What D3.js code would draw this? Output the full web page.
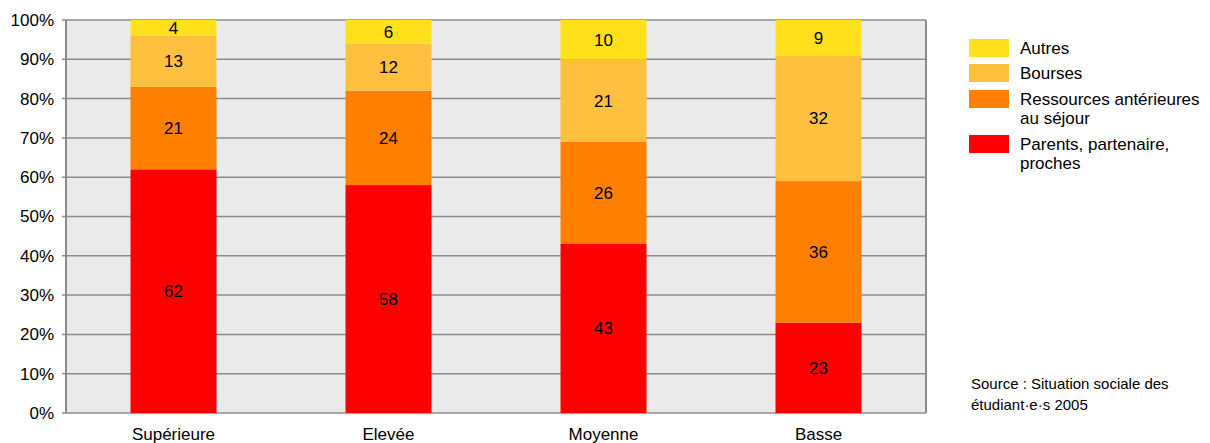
<!DOCTYPE html>
<html><head><meta charset="utf-8">
<script src="https://cdn.jsdelivr.net/npm/d3@7"></script>
<style>body{margin:0;background:#fff;}svg{display:block;font-family:"Liberation Sans",Arial,sans-serif;}</style>
</head><body>
<svg id="chart" width="1210" height="443"></svg>
<script>
const categories = ["Supérieure", "Elevée", "Moyenne", "Basse"];
const seriesNames = ["Parents, partenaire, proches", "Ressources antérieures au séjour", "Bourses", "Autres"];
const parents = [62, 58, 43, 23];
const ressources = [21, 24, 26, 36];
const bourses = [13, 12, 21, 32];
const autres = [4, 6, 10, 9];
const yTicks = [0, 10, 20, 30, 40, 50, 60, 70, 80, 90, 100];
const legendLabels = [["Autres"], ["Bourses"], ["Ressources antérieures", "au séjour"], ["Parents, partenaire,", "proches"]];
const sourceLines = ["Source : Situation sociale des", "étudiant·e·s 2005"];
const colors = ["#FF0000", "#FF8000", "#FFC03F", "#FFE01B"];

const svg = d3.select("#chart");
const pLeft = 66, pRight = 926, pTop = 20, pBottom = 413;
const fs = 17;

const x = d3.scaleBand().domain(categories).range([pLeft, pRight]).paddingInner(0.6).paddingOuter(0.3);
const y = d3.scaleLinear().domain([0, 100]).range([pBottom, pTop]);

svg.append("rect").attr("x", pLeft).attr("y", pTop).attr("width", pRight - pLeft).attr("height", pBottom - pTop).attr("fill", "#EAEAEA");

svg.append("g").selectAll("line").data(yTicks).join("line")
  .attr("x1", pLeft - 4).attr("x2", pRight).attr("y1", d => y(d)).attr("y2", d => y(d))
  .attr("stroke", "#8c8c8c").attr("stroke-width", 1.5);
svg.append("line").attr("x1", pRight).attr("x2", pRight).attr("y1", pTop).attr("y2", pBottom).attr("stroke", "#8c8c8c").attr("stroke-width", 2);

const table = categories.map((c, i) => ({cat: c, s0: parents[i], s1: ressources[i], s2: bourses[i], s3: autres[i]}));
const stack = d3.stack().keys(["s0", "s1", "s2", "s3"])(table);

const g = svg.append("g");
stack.forEach((layer, li) => {
  g.selectAll(null).data(layer).join("rect")
    .attr("x", d => x(d.data.cat)).attr("width", x.bandwidth())
    .attr("y", d => y(d[1])).attr("height", d => y(d[0]) - y(d[1]))
    .attr("fill", colors[li]);
  g.selectAll(null).data(layer).join("text")
    .attr("x", d => x(d.data.cat) + x.bandwidth() / 2)
    .attr("y", d => (y(d[0]) + y(d[1])) / 2)
    .attr("dy", "0.35em").attr("text-anchor", "middle")
    .attr("font-size", fs).attr("fill", "#000")
    .text(d => d[1] - d[0]);
});

svg.append("line").attr("x1", pLeft).attr("x2", pLeft).attr("y1", pTop).attr("y2", pBottom).attr("stroke", "#8c8c8c").attr("stroke-width", 2);
svg.append("g").selectAll("text").data(yTicks).join("text")
  .attr("x", 54).attr("y", d => y(d)).attr("dy", "0.35em").attr("text-anchor", "end")
  .attr("font-size", fs).attr("fill", "#000").text(d => d + "%");

svg.append("g").selectAll("text").data(categories).join("text")
  .attr("x", d => x(d) + x.bandwidth() / 2).attr("y", 434).attr("dy", "0.35em")
  .attr("text-anchor", "middle").attr("font-size", fs).attr("fill", "#000").text(d => d);

const legendY = [39, 64, 90, 135];
const legendColors = [colors[3], colors[2], colors[1], colors[0]];
legendLabels.forEach((lines, i) => {
  svg.append("rect").attr("x", 969).attr("y", legendY[i]).attr("width", 40).attr("height", 18).attr("fill", legendColors[i]);
  lines.forEach((t, j) => {
    svg.append("text").attr("x", 1020).attr("y", legendY[i] + 9 + j * 19).attr("dy", "0.35em")
      .attr("font-size", fs).attr("fill", "#000").text(t);
  });
});

sourceLines.forEach((t, j) => {
  svg.append("text").attr("x", 971).attr("y", 384 + j * 21).attr("dy", "0.35em")
    .attr("font-size", 15).attr("fill", "#000").text(t);
});
</script>
</body></html>
